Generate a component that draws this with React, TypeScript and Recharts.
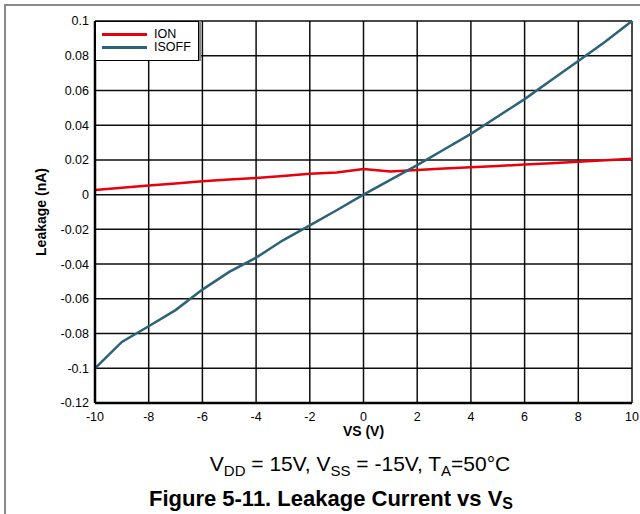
import React from "react";
import {
  LineChart,
  Line,
  XAxis,
  YAxis,
  CartesianGrid,
} from "recharts";

// Source voltage sweep (V)
const vs = [-10, -9, -8, -7, -6, -5, -4, -3, -2, -1, 0, 1, 2, 3, 4, 5, 6, 7, 8, 9, 10];

// On-state leakage (nA)
const ion = [
  0.0027, 0.004, 0.0052, 0.0064, 0.0077, 0.0087, 0.0096, 0.0107, 0.012, 0.0128,
  0.0148, 0.0133, 0.0142, 0.015, 0.0158, 0.0165, 0.0173, 0.0181, 0.019, 0.0198, 0.0207,
];

// Source off-state leakage (nA)
const isoff = [
  -0.1, -0.0848, -0.0758, -0.0665, -0.0547, -0.0445, -0.0363, -0.0263, -0.0177, -0.009,
  0, 0.0085, 0.017, 0.026, 0.035, 0.045, 0.055, 0.066, 0.077, 0.088, 0.1,
];

const xTicks = [-10, -8, -6, -4, -2, 0, 2, 4, 6, 8, 10];
const yTicks = [-0.12, -0.1, -0.08, -0.06, -0.04, -0.02, 0, 0.02, 0.04, 0.06, 0.08, 0.1];

const seriesNames = { ion: "ION", isoff: "ISOFF" };
const colors = { ion: "#e8000b", isoff: "#2c6278" };

const data = vs.map((v, i) => ({ vs: v, ion: ion[i], isoff: isoff[i] }));

const FONT = "'Liberation Sans', Arial, sans-serif";

const fmtY = (v: number) => {
  if (Math.abs(v) < 1e-9) return "0";
  return String(parseFloat(v.toFixed(2)));
};

const LegendBox = () => (
  <div
    style={{
      position: "absolute",
      left: 95,
      top: 21,
      width: 102,
      height: 38,
      border: "1px solid #000",
      boxShadow: "2px 0 0 #888",
      background: "#fff",
      fontFamily: FONT,
      fontSize: 12.5,
      color: "#000",
    }}
  >
    {(["ion", "isoff"] as const).map((k, i) => (
      <div
        key={k}
        style={{ position: "absolute", left: 6, top: 6 + i * 13, height: 13, display: "flex", alignItems: "center" }}
      >
        <div style={{ width: 45, height: 2.5, background: colors[k] }} />
        <span style={{ marginLeft: 7, lineHeight: "13px" }}>{seriesNames[k]}</span>
      </div>
    ))}
  </div>
);

const sub = (t: string, size: number, dy: number) => (
  <span style={{ fontSize: size, position: "relative", top: dy }}>{t}</span>
);

export default function App() {
  return (
    <div style={{ position: "absolute", left: 0, top: 0, width: 640, height: 514, background: "#fff", overflow: "hidden" }}>
      <div
        style={{
          position: "absolute",
          left: 4,
          top: 4,
          width: 700,
          height: 600,
          borderLeft: "2px solid #8a8a8a",
          borderTop: "2px solid #8a8a8a",
        }}
      />
      <div style={{ position: "absolute", left: 0, top: 0 }}>
        <LineChart
          width={640}
          height={514}
          data={data}
          margin={{ top: 21, right: 8, bottom: 81, left: 0 }}
        >
          <CartesianGrid stroke="#000" strokeWidth={1.5} strokeOpacity={0.95} />
          <XAxis
            dataKey="vs"
            type="number"
            domain={[-10, 10]}
            ticks={xTicks}
            interval={0}
            tickSize={0}
            tickMargin={9}
            axisLine={{ stroke: "#000", strokeWidth: 2.5 }}
            tick={{ fill: "#000", fontSize: 12.5, fontFamily: FONT }}
            height={30}
            label={{
              value: "VS (V)",
              position: "insideBottom",
              offset: -3,
              style: { fontFamily: FONT, fontSize: 14, fontWeight: "bold", fill: "#000" },
            }}
          />
          <YAxis
            type="number"
            domain={[-0.12, 0.1]}
            ticks={yTicks}
            interval={0}
            tickSize={0}
            tickMargin={6}
            width={95}
            tickFormatter={fmtY}
            axisLine={{ stroke: "#000", strokeWidth: 2.5 }}
            tick={{ fill: "#000", fontSize: 12.5, fontFamily: FONT }}
            label={{
              value: "Leakage (nA)",
              angle: -90,
              position: "insideLeft",
              offset: 41,
              style: { fontFamily: FONT, fontSize: 14, fontWeight: "bold", fill: "#000", textAnchor: "middle" },
            }}
          />
          <Line
            dataKey="ion"
            name={seriesNames.ion}
            stroke={colors.ion}
            strokeWidth={2.5}
            dot={false}
            isAnimationActive={false}
          />
          <Line
            dataKey="isoff"
            name={seriesNames.isoff}
            stroke={colors.isoff}
            strokeWidth={2.5}
            dot={false}
            isAnimationActive={false}
          />
        </LineChart>
      </div>
      <LegendBox />
      <div
        style={{
          position: "absolute",
          left: 0,
          width: 720,
          top: 452,
          textAlign: "center",
          fontFamily: FONT,
          fontSize: 21,
          color: "#000",
          whiteSpace: "nowrap",
        }}
      >
        V{sub("DD", 15, 5)} = 15V, V{sub("SS", 15, 5)} = -15V, T{sub("A", 15, 5)}=50°C
      </div>
      <div
        style={{
          position: "absolute",
          left: 0,
          width: 662,
          top: 487,
          lineHeight: "24px",
          textAlign: "center",
          fontFamily: FONT,
          fontSize: 22,
          fontWeight: "bold",
          color: "#000",
          whiteSpace: "nowrap",
        }}
      >
        Figure 5-11. Leakage Current vs V{sub("S", 16, 3)}
      </div>
    </div>
  );
}
